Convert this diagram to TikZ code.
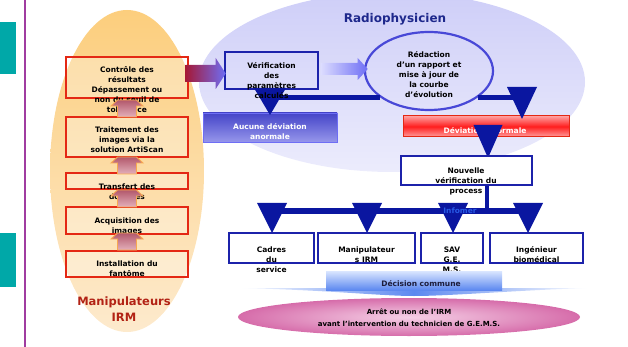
\documentclass[tikz,border=0pt]{standalone}
\usepackage{fontspec}
\setmainfont{DejaVu Sans}
\usetikzlibrary{shapes.geometric}
\definecolor{tealbox}{RGB}{0,168,168}
\definecolor{purpleline}{RGB}{160,60,160}
\definecolor{orangetop}{RGB}{252,206,125}
\definecolor{orangebot}{RGB}{253,234,205}
\definecolor{redborder}{RGB}{228,40,20}
\definecolor{arroworange}{RGB}{248,168,80}
\definecolor{arrowtop}{RGB}{178,88,108}
\definecolor{arrowbot}{RGB}{228,176,186}
\definecolor{manipred}{RGB}{178,34,20}
\definecolor{lavtop}{RGB}{206,206,248}
\definecolor{lavbot}{RGB}{236,236,252}
\definecolor{titleblue}{RGB}{30,40,140}
\definecolor{boxblue}{RGB}{28,34,170}
\definecolor{darkblue}{RGB}{10,22,160}
\definecolor{ellblue}{RGB}{72,72,215}
\definecolor{arrowred}{RGB}{165,25,55}
\definecolor{arrowlav}{RGB}{110,110,245}
\definecolor{arrowpale}{RGB}{225,225,255}
\definecolor{aucunetop}{RGB}{68,68,200}
\definecolor{aucunebot}{RGB}{150,150,235}
\definecolor{devlight}{RGB}{255,160,160}
\definecolor{devmid}{RGB}{255,30,30}
\definecolor{infoblue}{RGB}{40,90,230}
\definecolor{decitop}{RGB}{218,230,255}
\definecolor{decibot}{RGB}{92,136,240}
\definecolor{pinkin}{RGB}{245,208,230}
\definecolor{pinkout}{RGB}{214,108,170}

\newcommand{\uparrowblock}[2]
{\shade[draw=arroworange,line width=.9pt,top color=arrowtop,bottom color=arrowbot]
	(#1-9.5,#2) -- (#1+9.5,#2) -- (#1+16,#2+6) -- (#1+9.5,#2+6) -- (#1+9.5,#2+17)
	-- (#1-9.5,#2+17) -- (#1-9.5,#2+6) -- (#1-16,#2+6) -- cycle;
}
\newcommand{\downtri}[4][15]
{\fill[darkblue] (#2-#1,#3) -- (#2+#1,#3) -- (#2,#4) -- cycle;
}

\begin{document}
\begin{tikzpicture}[x=1pt,y=-1pt,>=latex,
	txt/.style={font=\bfseries\fontsize{7.5}{10}\selectfont,align=center,inner sep=0pt},
	lbox/.style={draw=redborder,line width=1.4pt,fill=white,fill opacity=.3,minimum width=122pt,inner sep=0pt},
	bbox/.style={draw=boxblue,line width=1.4pt,fill=white,inner sep=0pt},
	bline/.style={draw=darkblue,line width=5pt}]
\useasboundingbox (0,0) rectangle (628,347);
% margin
\fill[tealbox] (0,22) rectangle (16,74);
\fill[tealbox] (0,233) rectangle (16,287);
\draw[purpleline,line width=1.5pt] (25,0) -- (25,347);
% groups
\shade[top color=lavtop,bottom color=lavbot] (392,82) ellipse [x radius=193pt,y radius=90pt];
\shade[top color=orangetop,bottom color=orangebot] (127,171) ellipse [x radius=77pt,y radius=161pt];
% manipulateurs
\foreach \n/\y/\h in {ctrl/77.5/41,trait/137/40,transf/181/16,acq/220.5/27,inst/264/26}
	{\node[lbox,minimum height=\h pt] (\n) at (127,\y) {};
	};
\node[txt] (ctrltxt) at (127,90) {Contrôle des\\résultats\\Dépassement ou\\non du seuil de\\tolérance};
\node[txt] (traittxt) at (127,140) {Traitement des\\images via la\\solution ArtiScan};
\node[txt] (transftxt) at (127,191.5) {Transfert des\\données};
\node[txt] (acqtxt) at (127,226) {Acquisition des\\images};
\node[txt] (insttxt) at (127,269) {Installation du\\fantôme};
\foreach \y in {100,157,190,233}
	{\uparrowblock{127}{\y}
	};
\node[txt,text=manipred,font=\bfseries\fontsize{11.5}{16}\selectfont] (manipirm) at (124,309) {Manipulateurs\\IRM};
% radiophysicien
\node[font=\bfseries\fontsize{12}{14}\selectfont,text=titleblue,inner sep=0pt] (radio) at (395,19) {Radiophysicien};
\node[draw=boxblue,line width=1.4pt,minimum width=93pt,minimum height=37pt,inner sep=0pt] (verif) at (271.5,70.5) {};
\node[ellipse,draw=ellblue,line width=2.2pt,minimum width=128pt,minimum height=78pt,inner sep=0pt] (redac) at (429,71) {};
\shade[left color=arrowred,right color=arrowlav] (ctrl.east) ++(-3,-12.5) -- ++(30,0) -- ++(0,-7)
	-- ++(10,15.5) -- ++(-10,15.5) -- ++(0,-7) -- ++(-30,0) -- cycle;
\shade[left color=arrowpale,right color=arrowlav] (verif.east) ++(2,-7.5) -- ++(37,0) -- ++(0,-5)
	-- ++(10,11) -- ++(-10,11) -- ++(0,-5) -- ++(-37,0) -- cycle;
\node[draw=arrowlav,line width=.8pt,top color=aucunetop,bottom color=aucunebot,minimum width=134pt,minimum height=29pt] (aucune) at (270,127.5) {};
\node[txt,text=white] (aucunetxt) at (270,132) {Aucune déviation\\anormale};
\draw[bline] (redac.208) -- (redac.208 -| aucune.north);
\downtri[16]{270}{88}{115}
\node[txt] (veriftxt) at (271.5,81) {Vérification\\des\\paramètres\\calculés};
\node[txt] (redactxt) at (429,75) {Rédaction\\d’un rapport et\\mise à jour de\\la courbe\\d’évolution};
\node[draw=redborder,line width=1pt,top color=devlight,bottom color=devlight,middle color=devmid,minimum width=166pt,minimum height=21pt] (devia) at (486,126.5) {};
\node[txt,text=white] (deviatxt) at (485,131) {Déviation anormale};
\coordinate (devturn) at (522,95.5);
\draw[bline] (redac.-28) -- (redac.-28 -| devturn);
\downtri{522}{87}{119}
\downtri[14.5]{488}{125}{158}
% nouvelle verification
\node[bbox,minimum width=131pt,minimum height=29pt] (nouv) at (466.5,170.5) {};
\node[txt] (nouvtxt) at (466,181) {Nouvelle\\vérification du\\process};
\coordinate (fork) at (487,211);
\coordinate (leftend) at (272,211);
\coordinate (rightend) at (528,211);
\draw[darkblue,line width=4pt] (nouv.south -| fork) -- (fork);
\draw[bline] (leftend) -- (rightend);
\foreach \x in {272,367,453,528}
	{\downtri{\x}{203}{233}
	};
\node[txt,text=infoblue] (informer) at (460,211) {Infomer};
\foreach \n/\x/\w in {cadres/271.5/85,manip/366.5/97,sav/452/62,ing/536.5/93}
	{\node[bbox,minimum width=\w pt,minimum height=30pt] (\n) at (\x,248) {};
	};
\node[txt] (cadrestxt) at (271.5,260) {Cadres\\du\\service};
\node[txt] (maniptxt) at (366.5,255) {Manipulateur\\s IRM};
\node[txt] (savtxt) at (452,260) {SAV\\G.E.\\M.S.};
\node[txt] (ingtxt) at (536.5,255) {Ingénieur\\biomédical};
% decision
\shade[left color=white,right color=white,middle color=decibot] (238,288) .. controls (330,290) and (380,296) .. (414,296)
	.. controls (450,296) and (520,290) .. (590,288) -- cycle;
\node[top color=decitop,bottom color=decibot,minimum width=176pt,minimum height=19pt] (decision) at (414,280.5) {};
\node[txt,text={rgb,255:red,30;green,30;blue,60}] (decisiontxt) at (421,284) {Décision commune};
\shade[inner color=pinkin,outer color=pinkout] (409,317) ellipse [x radius=171pt,y radius=19pt];
\node[txt,font=\bfseries\fontsize{7}{12}\selectfont] (arret) at (409,318) {Arrêt ou non de l’IRM\\avant l’intervention du technicien de G.E.M.S.};
\end{tikzpicture}
\end{document}
